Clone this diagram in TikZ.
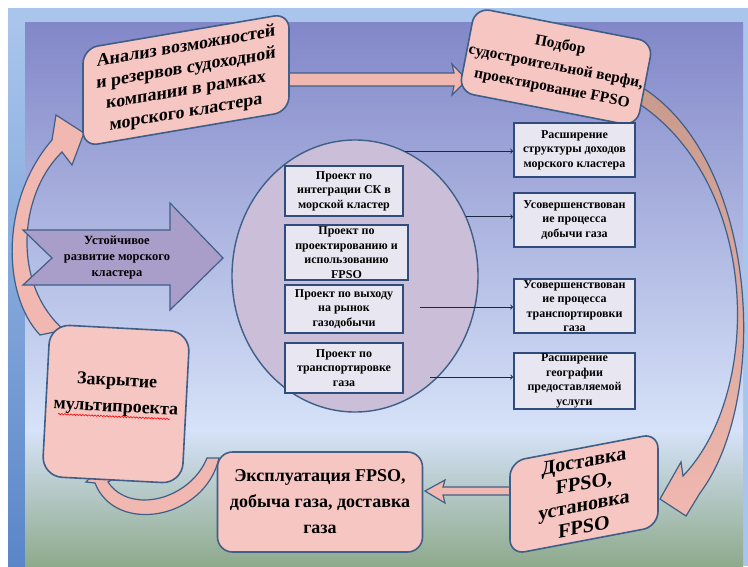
\documentclass[tikz,border=0pt]{standalone}
\usepackage{fontspec}
\setmainfont{Liberation Serif}
\usetikzlibrary{
    calc,
    shapes.geometric,
    decorations.pathmorphing
}
\definecolor{framelight}{HTML}{A9C5EC}
\definecolor{frameband}{HTML}{5A86C8}
\definecolor{slidetop}{HTML}{8287C8}
\definecolor{slidemid}{HTML}{D6E2F8}
\definecolor{slidebot}{HTML}{8EAA8C}
\definecolor{pinkfill}{HTML}{F6C6C2}
\definecolor{pinkarrow}{HTML}{F0B8B0}
\definecolor{arrowtan}{HTML}{C89A8C}
\definecolor{edgeblue}{HTML}{3F5F88}
\definecolor{boxedge}{HTML}{2F4C7C}
\definecolor{boxfill}{HTML}{E8E6F0}
\definecolor{lavender}{HTML}{CABED8}
\definecolor{signalfill}{HTML}{A99DCA}
\definecolor{linkcol}{HTML}{1C2840}
\tikzset{
  stage/.style={
    draw=edgeblue,
    fill=pinkfill,
    line width=1.6pt,
    rounded corners=15pt,
    align=center,
    inner sep=2pt
  },
  project/.style={
    draw=boxedge,
    fill=boxfill,
    line width=1.8pt,
    align=center,
    inner sep=1pt,
    font=\bfseries\fontsize{12}{14.5}\selectfont
  },
  fat/.style={
    draw=edgeblue,
    fill=pinkarrow,
    line width=1.2pt
  },
  link/.style={
    ->,
    line width=0.9pt,
    draw=linkcol
  }
}

\begin{document}
\begin{tikzpicture}[x=1pt,y=-1pt]
    \useasboundingbox (0,0) rectangle (748,566);
    % фон
    \fill[white] (0,0) rectangle (748,566);
    \fill[framelight] (8,8) rectangle (748,566);
    \shade[top color=framelight, bottom color=frameband] (8,22) rectangle (25,566);
    \shade[top color=slidetop, bottom color=slidemid] (25,22) rectangle (743,430);
    \shade[top color=slidemid, bottom color=slidebot] (25,430) rectangle (743,566);

    % большие стрелки цикла
    \draw[fat] (40,335) .. controls (2,295) and (0,200) .. (52,140)
        -- (56,115) -- (84,133) -- (72,165) -- (62,152)
        .. controls (18,195) and (12,285) .. (64,330) -- cycle;
    \draw[fat, top color=arrowtan, bottom color=pinkarrow]
        (630,98) .. controls (760,175) and (765,390) .. (683,476)
        -- (681,462) -- (660,499) -- (686,516) -- (700,493)
        .. controls (770,400) and (760,160) .. (640,86) -- cycle;
    \draw[fat] (207,458) .. controls (190,500) and (130,515) .. (108,482)
        -- (115,478) -- (100,467) -- (86,482) -- (95,483)
        .. controls (115,535) and (205,520) .. (219,458) -- cycle;
    \draw[fat] (285,73) -- (454,73) -- (452,64) -- (467,80) -- (452,95)
        -- (454,86) -- (285,86) -- cycle;
    \draw[fat] (512,487) -- (443,487) -- (445,480) -- (425,491) -- (445,503)
        -- (443,495) -- (512,495) -- cycle;

    % этапы
    \node[stage, yslant=0.17, minimum width=206, minimum height=98,
        font=\bfseries\fontsize{18}{22}\selectfont] (analysis) at (186,80)
        {Анализ возможностей\\и резервов судоходной\\компании в рамках\\морского кластера};
    \node[stage, rotate=-11, minimum width=175, minimum height=86,
        font=\bfseries\fontsize{15.5}{22}\selectfont] (shipyard) at (556,67)
        {Подбор\\судостроительной верфи,\\проектирование FPSO};
    \node[stage, yslant=0.19, minimum width=148, minimum height=93,
        font=\bfseries\fontsize{20}{22}\selectfont] (delivery) at (584,494)
        {Доставка\\FPSO,\\установка\\FPSO};
    \node[stage, minimum width=205, minimum height=100,
        font=\bfseries\fontsize{18}{26}\selectfont] (operation) at (320,502)
        {Эксплуатация FPSO,\\добыча газа, доставка\\газа};
    \node[stage, rotate=-3, rounded corners=20pt, minimum width=140, minimum height=152,
        font=\bfseries\fontsize{18}{26}\selectfont] (closing) at (116,404)
        {Закрытие\\мультипроекта\\[-4pt]\mbox{}};
    \draw[red, line width=0.6pt, decorate,
        decoration={snake, amplitude=0.7pt, segment length=3pt}]
        ($(closing.center)+(-58,10)$) -- ($(closing.center)+(54,15)$);

    % цель
    \draw[draw=edgeblue, fill=signalfill, line width=1.2pt]
        (23,230) -- (170,230) -- (170,203) -- (223,258) -- (170,310)
        -- (170,285) -- (23,285) -- (52,258) -- cycle;
    \node[align=center, font=\bfseries\fontsize{12.5}{16}\selectfont] (goal) at (117,258)
        {Устойчивое\\развитие морского\\кластера};

    % проекты
    \node[ellipse, draw=edgeblue, fill=lavender, line width=1.4pt,
        minimum width=246, minimum height=272] (hub) at (355,276) {};
    \node[project, minimum width=118, minimum height=50] (p1) at (344,191)
        {Проект по\\интеграции СК в\\морской кластер};
    \node[project, minimum width=123, minimum height=55] (p2) at (346.5,252.5)
        {Проект по\\проектированию и\\использованию\\FPSO};
    \node[project, minimum width=118, minimum height=48] (p3) at (344,309)
        {Проект по выходу\\на рынок\\газодобычи};
    \node[project, minimum width=118, minimum height=50] (p4) at (344,368)
        {Проект по\\транспортировке\\газа};

    % результаты
    \node[project, minimum width=121, minimum height=54] (r1) at (574.5,150)
        {Расширение\\структуры доходов\\морского кластера};
    \node[project, minimum width=121, minimum height=54] (r2) at (574.5,220)
        {Усовершенствован\\ие процесса\\добычи газа};
    \node[project, minimum width=121, minimum height=53] (r3) at (574.5,306)
        {Усовершенствован\\ие процесса\\транспортировки\\газа};
    \node[project, minimum width=121, minimum height=53] (r4) at (574.5,381)
        {Расширение\\географии\\предоставляемой\\услуги};

    % связи
    \coordinate (s3) at ($(hub.center)+(65,31)$);
    \coordinate (s4) at ($(hub.center)+(75,101)$);
    \draw[link] (hub.68) -- (hub.68 -| r1.west);
    \draw[link] (hub.28) -- (hub.28 -| r2.west);
    \draw[link] (s3) -- (s3 -| r3.west);
    \draw[link] (s4) -- (s4 -| r4.west);
\end{tikzpicture}
\end{document}
